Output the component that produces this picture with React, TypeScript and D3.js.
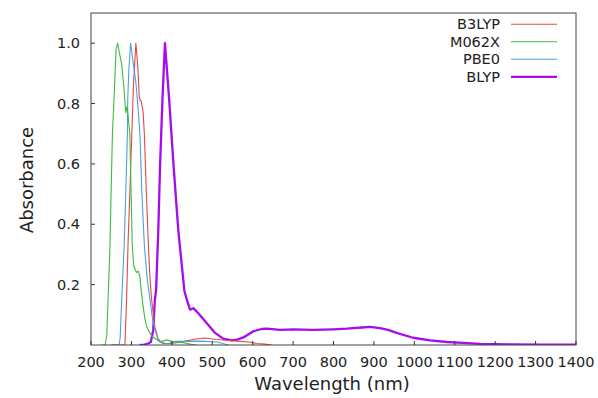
import React from "react";
import * as d3 from "d3";

// Wavelength (nm) / absorbance pairs
const b3lypX = [250, 284, 288, 292, 296, 301, 305, 311, 315.5, 319.5, 322, 324, 329, 332, 337, 342, 346, 350, 358, 366, 378, 400, 430, 460, 482, 510, 540, 569, 590, 610, 630, 647];
const b3lypY = [0, 0, 0.15, 0.35, 0.5, 0.7, 0.86, 1.0, 0.93, 0.82, 0.81, 0.81, 0.77, 0.7, 0.5, 0.33, 0.22, 0.15, 0.06, 0.02, 0.005, 0.005, 0.012, 0.02, 0.023, 0.018, 0.015, 0.012, 0.01, 0.005, 0.003, 0];

const m062xX = [225, 235, 239, 243, 247, 250, 253, 258, 262, 266, 270, 276, 282, 286, 289, 291, 296, 299, 302, 306, 313, 317, 321, 325, 329, 333, 338, 350, 371, 387, 400, 427, 445, 460];
const m062xY = [0, 0, 0.03, 0.18, 0.33, 0.52, 0.7, 0.845, 0.98, 1.0, 0.97, 0.93, 0.845, 0.77, 0.79, 0.77, 0.7, 0.52, 0.33, 0.26, 0.24, 0.245, 0.227, 0.17, 0.128, 0.09, 0.06, 0.03, 0.01, 0.017, 0.012, 0.008, 0.003, 0];

const pbe0X = [250, 269, 272, 276, 282, 286, 290, 291, 294, 298, 305, 311, 315.5, 321, 326, 332, 339, 346, 352, 358, 366, 371, 390, 410, 440, 470, 512, 540];
const pbe0Y = [0, 0, 0.02, 0.15, 0.33, 0.5, 0.7, 0.82, 0.92, 1.0, 0.93, 0.87, 0.8, 0.7, 0.5, 0.33, 0.22, 0.15, 0.09, 0.05, 0.02, 0.01, 0.004, 0.012, 0.012, 0.013, 0.01, 0];

const blypX = [320, 329, 341, 348, 354, 358, 361, 366.5, 371, 377, 383, 393, 404, 416, 431, 437, 445, 453, 465, 486, 507, 527, 548, 562, 577, 601, 622, 635, 668, 700, 749, 800, 833, 870, 890, 915, 935, 956, 997, 1039, 1080, 1120, 1162, 1244, 1320, 1400];
const blypY = [0, 0, 0.005, 0.01, 0.05, 0.15, 0.18, 0.38, 0.6, 0.82, 1.0, 0.82, 0.6, 0.38, 0.18, 0.15, 0.117, 0.122, 0.106, 0.073, 0.04, 0.021, 0.015, 0.018, 0.025, 0.045, 0.053, 0.054, 0.05, 0.052, 0.05, 0.052, 0.054, 0.058, 0.06, 0.056, 0.05, 0.04, 0.024, 0.015, 0.01, 0.007, 0.004, 0.002, 0.001, 0.001];

const seriesNames = ["B3LYP", "M062X", "PBE0", "BLYP"];
const seriesColors = ["#e4483f", "#3cbb3c", "#4f9fe2", "#a50cf0"];
const seriesWidths = [1.1, 1.1, 1.1, 2.3];
const seriesData = [
  [b3lypX, b3lypY],
  [m062xX, m062xY],
  [pbe0X, pbe0Y],
  [blypX, blypY],
];

const xTicks = [200, 300, 400, 500, 600, 700, 800, 900, 1000, 1100, 1200, 1300, 1400];
const yTicks = [0.2, 0.4, 0.6, 0.8, 1.0];

export default function App() {
  const W = 598, H = 398;
  const L = 91, R = 576, T = 13, B = 345;
  const x = d3.scaleLinear().domain([200, 1400]).range([L, R]);
  const y = d3.scaleLinear().domain([0, 1.1]).range([B, T]);
  const font = "DejaVu Sans, sans-serif";
  const line = d3
    .line<[number, number]>()
    .x((d) => x(d[0]))
    .y((d) => y(d[1]));

  // draw order: BLYP at back? keep reference order where thin lines sit above
  const order = [3, 0, 2, 1];

  return (
    <svg width={W} height={H} style={{ position: "absolute", left: 0, top: 0, background: "#fff" }}>
      <rect x={0} y={0} width={W} height={H} fill="#fff" />
      <defs>
        <clipPath id="plot">
          <rect x={L} y={T} width={R - L} height={B - T} />
        </clipPath>
      </defs>
      <g clipPath="url(#plot)">
        {order.map((i) => {
          const [xs, ys] = seriesData[i];
          const pts = xs.map((v, k) => [v, ys[k]] as [number, number]);
          return (
            <path
              key={i}
              d={line(pts) || ""}
              fill="none"
              stroke={seriesColors[i]}
              strokeWidth={seriesWidths[i]}
              strokeLinejoin="round"
            />
          );
        })}
      </g>
      <rect x={L} y={T} width={R - L} height={B - T} fill="none" stroke="#444" strokeWidth={1} />
      {xTicks.map((t) => (
        <g key={"x" + t}>
          <line x1={x(t)} x2={x(t)} y1={B} y2={B - 4} stroke="#333" />
          <text x={x(t)} y={367} textAnchor="middle" fontFamily={font} fontSize={14.5} fill="#222">
            {t}
          </text>
        </g>
      ))}
      {yTicks.map((t) => (
        <g key={"y" + t}>
          <line x1={L} x2={L + 4} y1={y(t)} y2={y(t)} stroke="#333" />
          <text x={80} y={y(t) + 5} textAnchor="end" fontFamily={font} fontSize={14.5} fill="#222">
            {t.toFixed(1)}
          </text>
        </g>
      ))}
      <text x={332} y={390} textAnchor="middle" fontFamily={font} fontSize={18} fill="#222">
        Wavelength (nm)
      </text>
      <text
        transform={`translate(33,180) rotate(-90)`}
        textAnchor="middle"
        fontFamily={font}
        fontSize={18}
        fill="#222"
      >
        Absorbance
      </text>
      {seriesNames.map((n, i) => {
        const yy = 24.3 + i * 17.5;
        return (
          <g key={n}>
            <text x={500} y={yy + 5} textAnchor="end" fontFamily={font} fontSize={14.5} fill="#222">
              {n}
            </text>
            <line x1={511} x2={557} y1={yy} y2={yy} stroke={seriesColors[i]} strokeWidth={seriesWidths[i]} />
          </g>
        );
      })}
    </svg>
  );
}
